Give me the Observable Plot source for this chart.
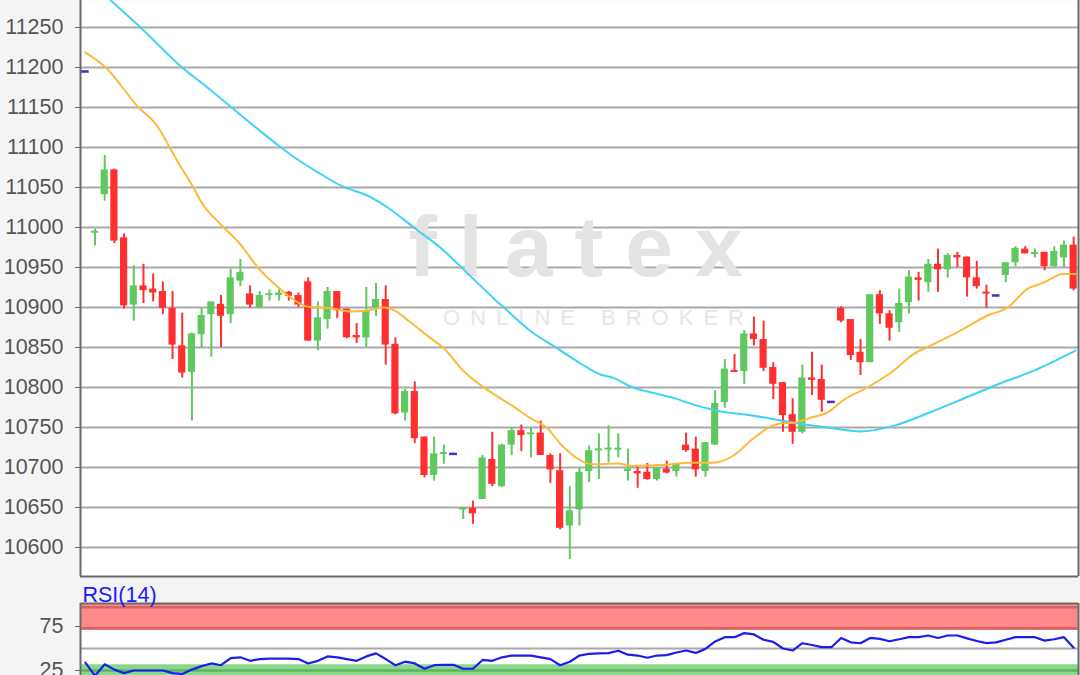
<!DOCTYPE html>
<html><head><meta charset="utf-8">
<script src="https://cdn.jsdelivr.net/npm/d3@7"></script>
<script src="https://cdn.jsdelivr.net/npm/@observablehq/plot@0.6"></script>
<style>
html,body{margin:0;padding:0;background:#f4f4f4;overflow:hidden}
#chart svg{display:block}
</style></head><body><div id="chart"></div>
<script>
// ---- data ----
const open = [11195,10993,11041,11072,10987,10903,10927,10923,10920,10899,
 10852,10819,10866,10891,10904,10891,10933,10917,10900,10915,
 10915,10919,10915,10932,10858,10885,10920,10898,10865,10862,
 10900,10910,10854,10768,10795,10738,10690,10717,10717,10647,
 10649,10660,10710,10676,10728,10746,10741,10743,10715,10696,
 10627,10647,10695,10721,10722,10722,10695,10695,10694,10685,
 10698,10695,10728,10723,10695,10728,10781,10821,10820,10867,
 10860,10825,10806,10766,10744,10812,10810,10782,10899,10885,
 10844,10831,10916,10892,10881,10906,10937,10931,10954,10947,
 10965,10963,10937,10919,10915,10940,10956,10973,10967,10969,
 10951,10962,10978];
const high = [11195,10998,11090,11073,10992,10952,10954,10942,10932,10920,
 10893,10868,10899,10907,10915,10948,10960,10927,10920,10922,
 10923,10920,10918,10937,10907,10925,10920,10898,10880,10925,
 10930,10927,10862,10798,10807,10738,10738,10728,10717,10650,
 10658,10715,10744,10729,10749,10753,10750,10758,10717,10717,
 10676,10699,10727,10742,10752,10742,10723,10702,10705,10699,
 10708,10704,10743,10738,10731,10796,10835,10841,10871,10888,
 10883,10831,10806,10786,10828,10844,10828,10782,10901,10885,
 10860,10916,10921,10896,10923,10946,10944,10960,10973,10967,
 10969,10963,10958,10928,10915,10956,10976,10976,10973,10969,
 10976,10983,10988];
const low = [11195,10977,11033,10980,10898,10883,10905,10907,10891,10835,
 10812,10758,10849,10838,10850,10880,10926,10899,10899,10908,
 10908,10908,10900,10858,10846,10873,10886,10861,10855,10850,
 10889,10828,10766,10758,10730,10687,10683,10704,10717,10635,
 10629,10660,10676,10675,10715,10720,10712,10715,10680,10622,
 10585,10627,10681,10685,10706,10712,10683,10674,10684,10683,
 10692,10688,10719,10688,10688,10728,10774,10819,10804,10852,
 10820,10785,10744,10729,10742,10790,10769,10782,10881,10834,
 10815,10831,10879,10858,10869,10892,10908,10919,10919,10937,
 10950,10913,10923,10899,10915,10931,10951,10967,10962,10946,
 10950,10950,10921];
const close = [11195,10995,11072,10983,10902,10927,10921,10918,10899,10853,
 10818,10867,10890,10907,10889,10937,10944,10903,10915,10917,
 10918,10914,10903,10858,10887,10920,10896,10862,10862,10895,
 10910,10853,10767,10795,10736,10690,10717,10718,10717,10649,
 10642,10712,10679,10728,10746,10740,10743,10715,10697,10624,
 10646,10694,10721,10723,10724,10724,10698,10692,10685,10699,
 10693,10704,10721,10697,10731,10780,10823,10819,10867,10860,
 10824,10804,10765,10744,10812,10809,10784,10782,10883,10840,
 10831,10916,10892,10874,10905,10938,10934,10954,10947,10965,
 10962,10937,10926,10917,10915,10956,10974,10967,10968,10951,
 10970,10978,10923];
// moving averages: [candle index, value]
const maFast = [[0,11219],[2.1,11200],[5.5,11150],[7.3,11129],[8.9,11096],[9.8,11077],[11.2,11049],[11.9,11033],
 [14.3,11000],[16,10979],[17.8,10950],[19.1,10934],[20.5,10919],[23,10901],[25.3,10899],[27.4,10895],[29.4,10897],
 [30.8,10900],[31.8,10897],[33.6,10881],[35.6,10862],[37,10849],[39,10821],[41.5,10797],[44.2,10776],[45.9,10762],
 [47.7,10749],[49,10730],[51.1,10709],[52.4,10704],[54.9,10705],[56.6,10702],[59.4,10703],[62.5,10706],[64.8,10706],
 [66.9,10715],[68.9,10736],[70.4,10749],[71.7,10755],[73.1,10756],[74.8,10762],[76.6,10769],[78.2,10784],[80.7,10800],
 [83.4,10821],[85.5,10842],[87.2,10852],[90.3,10871],[93.1,10890],[95.2,10900],[97.2,10923],[98.9,10931],[100.9,10942],[102.2,10942]];
const maSlow = [[2.6,11284],[5.7,11250],[9.8,11202],[12.6,11175],[15,11151],[17.8,11123],[20.1,11101],[21.9,11085],
 [24,11069],[26.6,11051],[29.1,11040],[31.2,11025],[33.9,11000],[37,10971],[39,10948],[42.1,10912],[43.2,10900],
 [45.9,10871],[48.7,10849],[51.1,10830],[53.2,10816],[54.5,10812],[56.3,10801],[58,10795],[60.7,10787],[63.2,10777],
 [65.6,10770],[68.3,10766],[71.7,10759],[73.1,10756],[76.6,10750],[80,10745],[83.4,10752],[87.2,10769],[91.4,10790],
 [94.4,10805],[97.9,10821],[102.2,10846]];
const rsi = [34,19,32,26,22,25,25,25,25,22,
 21,26,30,33,31,39,40,36,38,38.6,
 38.6,38.6,38,33,36,41,40,38,36,41,
 44.5,38,31,35,33,27,31,31.5,31.5,27,
 27,37,36,40,42,42,42,40,38,31,
 35,42,44,44.5,44.7,47.5,43,42,39.5,42,
 42.5,45.5,47.7,45,49.6,58,62.9,62.9,67.5,66,
 60,57.5,50,47.7,56,54,51.5,51.5,62,57,
 56,62,61,58.3,60.5,62.9,62.9,64.8,62,64.8,
 64.8,61.5,58.5,56.2,57,60,62.9,62.9,62.9,59,
 60.5,62.9,51];
const priceTicks = [10600,10650,10700,10750,10800,10850,10900,10950,11000,11050,11100,11150,11200,11250];
const rsiTicks = [25, 75];
const rsiGrid = [50];
const overbought = [{lo: 70.5, hi: 101.2}];
const overboughtLines = [97, 73];
const oversold = [{lo: 0, hi: 31.5}];
const oversoldLines = [25];
const rsiLabel = "RSI(14)";
const logo = "flatex";
const logoSub = "ONLINE BROKER";

// ---- styling ----
const UP = "#5fc95f", DOWN = "#ff2f2f", FLAT = "#5522cc";
const FAST = "#ffb93a", SLOW = "#3fd3f3";
const BORDER = "#6a6a6a", GRID = "#a9a9a9";
const FONT = "'Liberation Sans', Arial, sans-serif";

const n = open.length;
const xDomain = [-0.5, n - 0.5];
const yDomain = [10563.75, 11283.75];
const candles = open.map((o, i) => ({i, o, h: high[i], l: low[i], c: close[i]}));
const flat = candles.filter(d => d.h === d.l);
const bars = candles.filter(d => d.h !== d.l);
const ups = bars.filter(d => d.c >= d.o);
const downs = bars.filter(d => d.c < d.o);
const bodyLo = d => Math.abs(d.o - d.c) < 2.4 ? (d.o + d.c) / 2 - 1.2 : Math.min(d.o, d.c);
const bodyHi = d => Math.abs(d.o - d.c) < 2.4 ? (d.o + d.c) / 2 + 1.2 : Math.max(d.o, d.c);
const HW = 0.37;

const main = Plot.plot({
  width: 1080, height: 578,
  marginLeft: 80, marginRight: 2, marginTop: 0, marginBottom: 2,
  style: {background: "#f4f4f4", fontFamily: FONT, fontSize: "21.5px", color: "#555"},
  x: {domain: xDomain, axis: null},
  y: {domain: yDomain, axis: null},
  marks: [
    Plot.frame({fill: "white"}),
    Plot.ruleY(priceTicks, {stroke: GRID, strokeWidth: 2}),
    Plot.text([logo], {frameAnchor: "top-left", dx: 506, dy: 248, text: d => d, textAnchor: "middle", lineAnchor: "middle", fontSize: 86, fontWeight: "bold", fill: "#e4e4e4"}),
    Plot.text([logoSub], {frameAnchor: "top-left", dx: 518, dy: 317, text: d => d, textAnchor: "middle", lineAnchor: "middle", fontSize: 22, fill: "#e6e6e6"}),
    Plot.ruleX(ups, {x: "i", y1: "l", y2: "h", stroke: UP, strokeWidth: 2}),
    Plot.ruleX(downs, {x: "i", y1: "l", y2: "h", stroke: DOWN, strokeWidth: 2}),
    Plot.rect(ups, {x1: d => d.i - HW, x2: d => d.i + HW, y1: bodyLo, y2: bodyHi, fill: UP}),
    Plot.rect(downs, {x1: d => d.i - HW, x2: d => d.i + HW, y1: bodyLo, y2: bodyHi, fill: DOWN}),
    Plot.ruleY(flat, {x1: d => d.i - 0.4, x2: d => d.i + 0.4, y: "c", stroke: FLAT, strokeWidth: 2.5}),
    Plot.line(maSlow, {x: d => d[0], y: d => d[1], stroke: SLOW, strokeWidth: 2, curve: "monotone-x", clip: true}),
    Plot.line(maFast, {x: d => d[0], y: d => d[1], stroke: FAST, strokeWidth: 2, curve: "monotone-x", clip: true}),
    Plot.ruleX(xDomain, {stroke: BORDER, strokeWidth: 2}),
    Plot.ruleY([yDomain[0]], {stroke: BORDER, strokeWidth: 2}),
    Plot.axisY(priceTicks, {tickSize: 5, tickPadding: 12, tickFormat: "d", stroke: BORDER})
  ]
});

const rsiPlot = Plot.plot({
  width: 1080, height: 97,
  marginLeft: 80, marginRight: 2, marginTop: 25, marginBottom: 0,
  style: {background: "#f4f4f4", fontFamily: FONT, fontSize: "21.5px", color: "#555", overflow: "hidden"},
  x: {domain: xDomain, axis: null},
  y: {domain: [19.3, 101.2], axis: null},
  marks: [
    Plot.frame({fill: "white"}),
    Plot.ruleY(rsiGrid, {stroke: GRID, strokeWidth: 2}),
    Plot.rect(overbought, {x1: () => xDomain[0], x2: () => xDomain[1], y1: "lo", y2: "hi", fill: "#ff8989", clip: true}),
    Plot.ruleY(overboughtLines, {stroke: "#d26464", strokeWidth: 2.5}),
    Plot.rect(oversold, {x1: () => xDomain[0], x2: () => xDomain[1], y1: "lo", y2: "hi", fill: "#8ad68a", clip: true}),
    Plot.ruleY(oversoldLines, {stroke: "#5fb25f", strokeWidth: 2.5}),
    Plot.line(rsi, {x: (d, i) => i, y: d => d, stroke: "#1c1cf0", strokeWidth: 2.2, clip: true}),
    Plot.ruleX(xDomain, {stroke: BORDER, strokeWidth: 2}),
    Plot.ruleY([101.2], {stroke: BORDER, strokeWidth: 2}),
    Plot.axisY(rsiTicks, {tickSize: 5, tickPadding: 12, tickFormat: "d", stroke: BORDER}),
    Plot.text([rsiLabel], {frameAnchor: "top-left", dx: 2, dy: -2, text: d => d, textAnchor: "start", lineAnchor: "bottom", fontSize: 21.5, fill: "#1a1aff"})
  ]
});

const root = document.getElementById("chart");
root.appendChild(main);
root.appendChild(rsiPlot);
d3.select(main).selectAll("text").each(function() {
  const t = this.textContent;
  if (t === logo) this.style.letterSpacing = "22px";
  if (t === logoSub) this.style.letterSpacing = "10px";
});
</script></body></html>
